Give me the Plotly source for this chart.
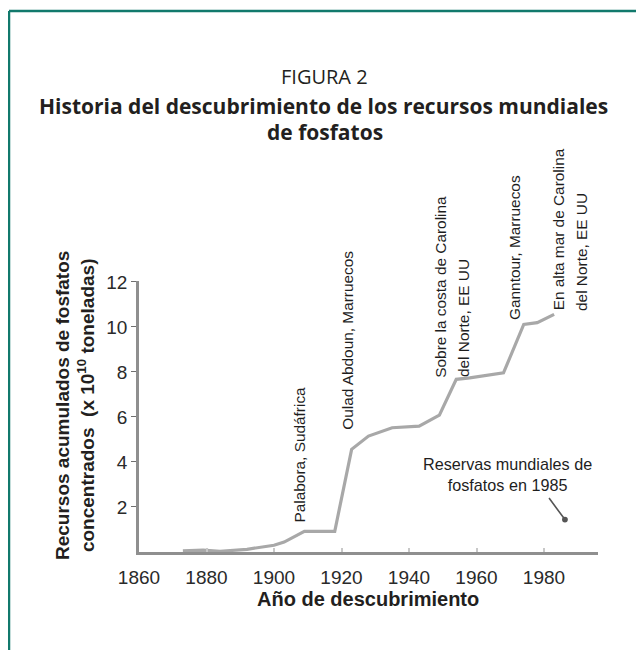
import plotly.graph_objects as go

# Recursos acumulados de fosfatos (x 10^10 t) por año de descubrimiento
years = [1873, 1879, 1884, 1892, 1900, 1903, 1909, 1918, 1923, 1928, 1935, 1943,
         1949, 1954, 1958, 1968, 1974, 1978, 1983]
resources = [0.05, 0.08, 0.03, 0.12, 0.30, 0.44, 0.92, 0.92, 4.56, 5.15, 5.52, 5.59,
             6.08, 7.67, 7.74, 7.96, 10.11, 10.19, 10.56]

x_ticks = [1860, 1880, 1900, 1920, 1940, 1960, 1980]
y_ticks = [2, 4, 6, 8, 10, 12]

# page has an 8px body margin, so the figure is drawn 8px in from the window
OFF = 8
W, H = 636, 642
L, R, T, B = 131, 46, 273, 98
PW, PH = W - L - R, H - T - B


def xp(px):
    # window pixel -> paper x
    return (px - OFF - L) / PW


def yp(py):
    # window pixel -> paper y
    return (H - B - (py - OFF)) / PH


TEAL = "#11796c"
GREY = "#a8a8a8"
AXIS = "#8f8f8f"
TXT = "#231f20"
ARIAL = "Liberation Sans, Arial, sans-serif"

fig = go.Figure()
fig.add_trace(go.Scatter(
    x=years, y=resources, mode="lines",
    line=dict(color=GREY, width=3.2),
    hoverinfo="skip", showlegend=False,
))

fig.update_layout(
    width=W, height=H,
    margin=dict(l=L, r=R, t=T, b=B),
    paper_bgcolor="white", plot_bgcolor="white",
    showlegend=False,
    font=dict(family=ARIAL, color=TXT),
)

fig.update_xaxes(
    range=[1860, 1996], tickvals=x_ticks, ticktext=[str(v) for v in x_ticks],
    showgrid=False, zeroline=False,
    showline=True, linecolor=AXIS, linewidth=2.5,
    ticks="inside", ticklen=4, tickcolor="#c8c8c8", tickwidth=1.5,
    ticklabelstandoff=6,
    tickfont=dict(size=19, color="#2a2a2a", family=ARIAL),
)
fig.update_yaxes(
    range=[0, 12.04], tickvals=y_ticks, ticktext=[str(v) for v in y_ticks],
    showgrid=False, zeroline=False,
    showline=True, linecolor=AXIS, linewidth=2.5,
    ticks="outside", ticklen=5, tickcolor="#6f6f6f", tickwidth=1,
    tickfont=dict(size=19, color="#2a2a2a", family=ARIAL),
)

# teal frame (left and top edges)
fig.add_shape(type="line", xref="paper", yref="paper",
              x0=xp(9), x1=xp(9), y0=yp(11), y1=yp(660),
              line=dict(color=TEAL, width=2.5))
fig.add_shape(type="line", xref="paper", yref="paper",
              x0=xp(9), x1=xp(660), y0=yp(11), y1=yp(11),
              line=dict(color=TEAL, width=2.5))

# titles
fig.add_annotation(xref="paper", yref="paper", x=xp(324), y=yp(76),
                   text="FIGURA 2", showarrow=False,
                   xanchor="center", yanchor="middle",
                   font=dict(family="Open Sans", size=20, color=TXT))
fig.add_annotation(xref="paper", yref="paper", x=xp(323), y=yp(106),
                   text="<b>Historia del descubrimiento de los recursos mundiales</b>",
                   showarrow=False, xanchor="center", yanchor="middle",
                   font=dict(family="Open Sans", size=21, color=TXT))
fig.add_annotation(xref="paper", yref="paper", x=xp(325), y=yp(132),
                   text="<b>de fosfatos</b>",
                   showarrow=False, xanchor="center", yanchor="middle",
                   font=dict(family="Open Sans", size=21, color=TXT))

# axis titles
fig.add_annotation(xref="paper", yref="paper", x=xp(368), y=yp(599),
                   text="<b>Año de descubrimiento</b>", showarrow=False,
                   xanchor="center", yanchor="middle",
                   font=dict(size=20, color=TXT))
fig.add_annotation(xref="paper", yref="paper", x=xp(75), y=yp(406),
                   text="<b>Recursos acumulados de fosfatos<br>concentrados  (x 10<sup>10</sup> toneladas)</b>",
                   showarrow=False, textangle=-90, align="center",
                   xanchor="center", yanchor="middle",
                   font=dict(size=19, color=TXT))

# deposit labels (rotated, one annotation per line)
lab_font = dict(family=ARIAL, size=15.4, color="#1e1e1e")
deposit_lines = [
    (1907.7, 1.22, "Palabora, Sudáfrica"),
    (1921.9, 5.36, "Oulad Abdoun, Marruecos"),
    (1949.3, 7.67, "Sobre la costa de Carolina"),
    (1956.2, 7.67, "del Norte, EE UU"),
    (1971.1, 10.24, "Ganntour, Marruecos"),
    (1984.4, 10.64, "En alta mar de Carolina"),
    (1991.1, 10.64, "del Norte, EE UU"),
]
for lx, ly, lt in deposit_lines:
    fig.add_annotation(x=lx, y=ly, text=lt, showarrow=False, textangle=-90,
                       xanchor="center", yanchor="bottom", font=lab_font)

# world reserves note with pointer
fig.add_annotation(x=1969.3, y=3.44, text="Reservas mundiales de<br>fosfatos en 1985",
                   showarrow=False, align="center", xanchor="center", yanchor="middle",
                   font=dict(family=ARIAL, size=16.2, color="#1e1e1e"))
fig.add_annotation(x=1986.2, y=1.44, text="", showarrow=True,
                   ax=-17, ay=-23, arrowhead=6, arrowsize=0.9, arrowwidth=1.6,
                   arrowcolor="#555555")

fig.write_html("out.html")
